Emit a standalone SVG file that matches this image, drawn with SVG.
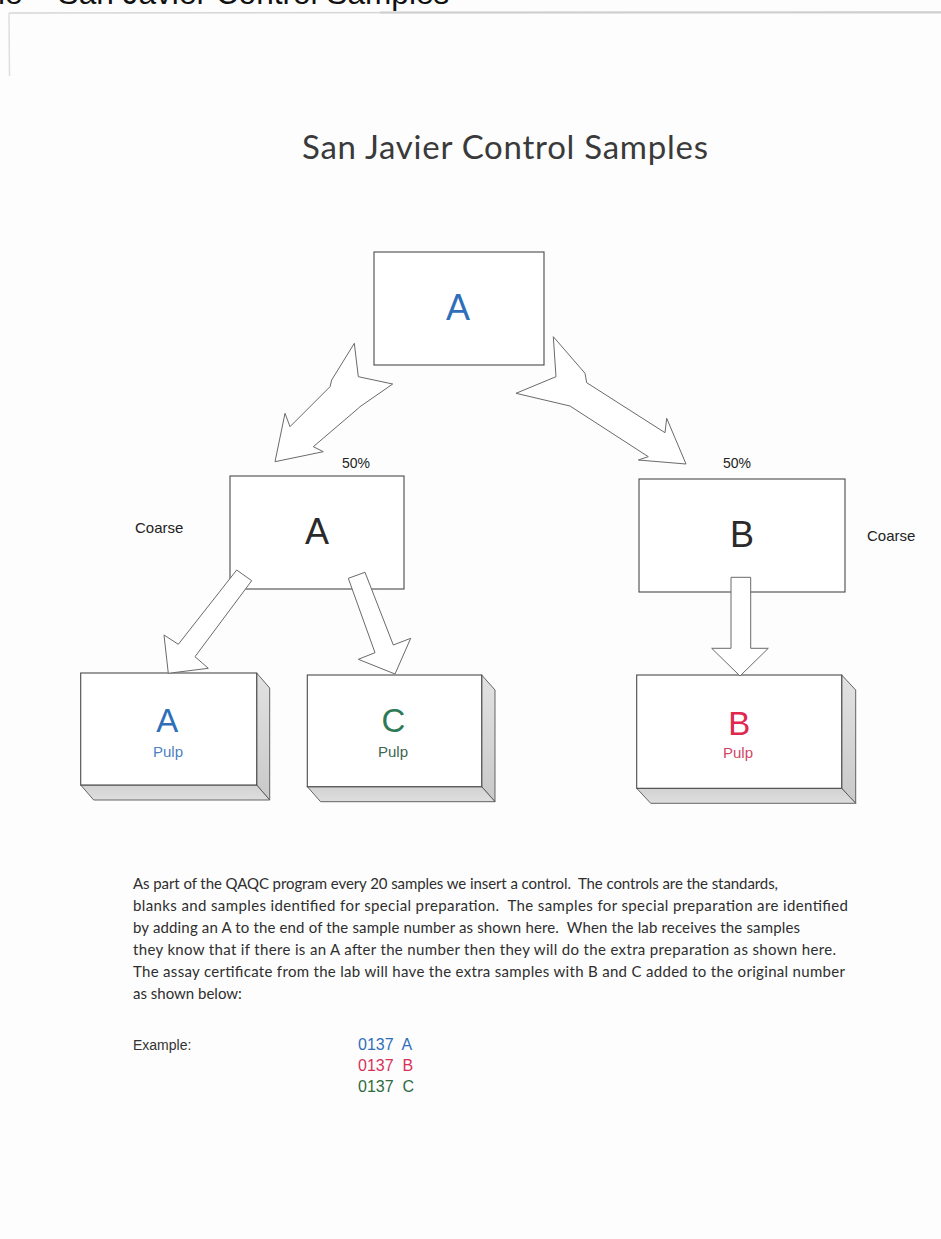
<svg xmlns="http://www.w3.org/2000/svg" width="941" height="1239" viewBox="0 0 941 1239">
  <style>
    .box { fill: #ffffff; stroke: #4a4a4a; stroke-width: 1.1; }
    .side { fill: url(#sideShade); stroke: #555; stroke-width: 0.9; }
    .bottom { fill: url(#bottomShade); stroke: #555; stroke-width: 0.9; }
    .arrow { fill: #ffffff; stroke: #6a6a6a; stroke-width: 1; stroke-linejoin: miter; }
    .sans { font-family: "Liberation Sans", Arial, sans-serif; }
    .body { font-family: Lato, "Open Sans", sans-serif; font-size: 15px; fill: #2e2e2e; white-space: pre; }
    .big { font-size: 36px; text-anchor: middle; }
    .pulpLetter { font-size: 33px; text-anchor: middle; }
    .pulp { font-size: 15px; text-anchor: middle; }
    .small { font-size: 15px; fill: #222; }
    .blue { fill: #2f6fba; }
    .green { fill: #2e7a56; }
    .red { fill: #e0284f; }
  </style>
  <defs>
    <linearGradient id="sideShade" x1="0" y1="0" x2="0" y2="1">
      <stop offset="0" stop-color="#e2e2e2"/>
      <stop offset="1" stop-color="#c9c9c9"/>
    </linearGradient>
    <linearGradient id="bottomShade" x1="0" y1="0" x2="0" y2="1">
      <stop offset="0" stop-color="#d2d2d2"/>
      <stop offset="1" stop-color="#dedede"/>
    </linearGradient>
  </defs>

  <rect x="0" y="0" width="941" height="1239" fill="#fdfdfd"/>

  <!-- page header, clipped at the top edge -->
  <text class="sans" x="-2" y="4" font-size="31.6" fill="#111" style="white-space: pre">le – San Javier Control Samples</text>
  <!-- page frame lines -->
  <path d="M9,13 L941,12" stroke="#d6d6d6" stroke-width="1.5" fill="none"/>
  <path d="M380,12.5 L941,12.5" stroke="#cfcfcf" stroke-width="2" fill="none"/>
  <path d="M9,13 L9.5,76" stroke="#dedede" stroke-width="1.5" fill="none"/>

  <!-- title -->
  <text x="505" y="159" font-family="Lato, 'Open Sans', sans-serif" font-size="33" fill="#3a3a3a" text-anchor="middle" textLength="406" lengthAdjust="spacing">San Javier Control Samples</text>

  <!-- source sample -->
  <g id="node-source-a">
    <rect class="box" x="374" y="252" width="170" height="113"/>
    <text class="sans big blue" x="458" y="320" font-size="37">A</text>
  </g>

  <!-- coarse split A -->
  <g id="node-coarse-a">
    <rect class="box" x="230" y="476" width="174" height="113"/>
    <text class="sans big" x="317" y="544" fill="#2a2a2a">A</text>
  </g>

  <!-- coarse split B -->
  <g id="node-coarse-b">
    <rect class="box" x="639" y="479" width="206" height="113"/>
    <text class="sans big" x="742" y="547" font-size="35" fill="#2a2a2a">B</text>
  </g>

  <!-- pulp A -->
  <g id="node-pulp-a">
    <polygon class="side" points="256.7,673 269.7,688 269.7,800 256.7,785"/>
    <polygon class="bottom" points="80.7,785 256.7,785 269.7,800 93.7,800"/>
    <rect class="box" x="80.7" y="673" width="176" height="112"/>
    <text class="sans pulpLetter blue" x="167.3" y="731.7">A</text>
    <text class="sans pulp blue" x="168" y="757" fill-opacity="0.9">Pulp</text>
  </g>

  <!-- pulp C -->
  <g id="node-pulp-c">
    <polygon class="side" points="481.7,675 495,690 495,801.7 481.7,786.7"/>
    <polygon class="bottom" points="307.3,786.7 481.7,786.7 495,801.7 320.6,801.7"/>
    <rect class="box" x="307.3" y="675" width="174.4" height="111.7"/>
    <text class="sans pulpLetter green" x="393.3" y="731.7">C</text>
    <text class="sans pulp" x="393" y="757" fill="#3d6650">Pulp</text>
  </g>

  <!-- pulp B -->
  <g id="node-pulp-b">
    <polygon class="side" points="841.7,675 855.7,690 855.7,803.3 841.7,788.3"/>
    <polygon class="bottom" points="636.7,788.3 841.7,788.3 855.7,803.3 650.7,803.3"/>
    <rect class="box" x="636.7" y="675" width="205" height="113.3"/>
    <text class="sans pulpLetter red" x="739.3" y="735">B</text>
    <text class="sans pulp" x="738" y="758" fill="#d24566">Pulp</text>
  </g>

  <!-- block arrows -->
  <g id="connectors">
    <polygon class="arrow" points="354.3,343.3 358.3,376.7 392.7,384 360,406.7 358.3,408.3 313.3,446.7 323.3,451.7 275,461.7 285,413.3 290,426.7 330,386.7 331.7,380"/>
    <polygon class="arrow" points="553.3,336.7 556,376.7 516,393.3 570,406 648.3,456.7 638.3,460 686,464 666.7,418.3 665,432.7 586.7,382.7 585,373.3"/>
    <polygon class="arrow" points="236.7,570 251.7,580.7 195,656.7 208.3,668.3 168.3,673.3 164,635 178.3,644.3"/>
    <polygon class="arrow" points="348.3,578.3 365,572.3 393.3,645 410.7,638.3 395,674 358.3,659.3 375,652.7"/>
    <polygon class="arrow" points="731,577.3 750.7,577.3 750.7,648.3 768.3,648.3 740,676 711.7,648.3 731,648.3"/>
  </g>

  <!-- split labels -->
  <g id="labels">
    <text class="sans" x="342" y="468" font-size="14" fill="#222">50%</text>
    <text class="sans" x="723" y="468" font-size="14" fill="#222">50%</text>
    <text class="sans small" x="135" y="533">Coarse</text>
    <text class="sans small" x="867" y="541">Coarse</text>
  </g>

  <!-- explanatory paragraph -->
  <g id="notes">
    <text class="body" x="133" y="889" textLength="645" lengthAdjust="spacing">As part of the QAQC program every 20 samples we insert a control.  The controls are the standards,</text>
    <text class="body" x="133" y="911" textLength="715" lengthAdjust="spacing">blanks and samples identified for special preparation.  The samples for special preparation are identified</text>
    <text class="body" x="133" y="933" textLength="667" lengthAdjust="spacing">by adding an A to the end of the sample number as shown here.  When the lab receives the samples</text>
    <text class="body" x="133" y="955" textLength="703" lengthAdjust="spacing">they know that if there is an A after the number then they will do the extra preparation as shown here.</text>
    <text class="body" x="133" y="977" textLength="712" lengthAdjust="spacing">The assay certificate from the lab will have the extra samples with B and C added to the original number</text>
    <text class="body" x="133" y="999">as shown below:</text>

    <text class="sans" x="133" y="1050" font-size="14" fill="#333">Example:</text>
    <text class="sans blue" x="358" y="1050" font-size="16" style="white-space: pre">0137  A</text>
    <text class="sans" x="358" y="1071" font-size="16" fill="#d8325a" style="white-space: pre">0137  B</text>
    <text class="sans" x="358" y="1092" font-size="16" fill="#2e6b3f" style="white-space: pre">0137  C</text>
  </g>
</svg>
